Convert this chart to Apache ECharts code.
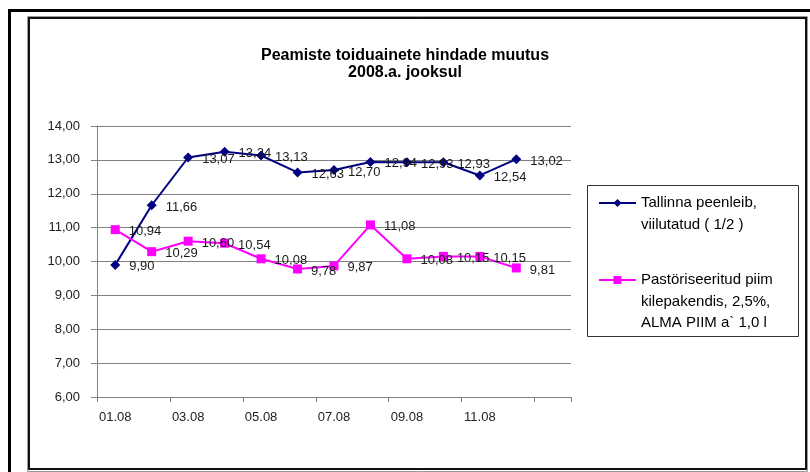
<!DOCTYPE html>
<html>
<head>
<meta charset="utf-8">
<script src="https://cdn.jsdelivr.net/npm/echarts@6/dist/echarts.min.js"></script>
<style>
  html, body { margin: 0; padding: 0; background: #fff; }
  #chart { width: 810px; height: 472px; }
</style>
</head>
<body>
<div id="chart"></div>
<script>
const months = ["01.08", "02.08", "03.08", "04.08", "05.08", "06.08", "07.08", "08.08", "09.08", "10.08", "11.08", "12.08", ""];
const breadName = "Tallinna peenleib,\nviilutatud ( 1/2 )";
const milkName = "Pastöriseeritud piim\nkilepakendis, 2,5%,\nALMA PIIM a` 1,0 l";
const bread = [9.90, 11.66, 13.07, 13.24, 13.13, 12.63, 12.70, 12.94, 12.93, 12.93, 12.54, 13.02, null];
const milk = [10.94, 10.29, 10.60, 10.54, 10.08, 9.78, 9.87, 11.08, 10.08, 10.15, 10.15, 9.81, null];

const FONT = "'Liberation Sans', Arial, sans-serif";
const comma = v => v.toFixed(2).replace(".", ",");
const LH = 21.5;

const chart = echarts.init(document.getElementById("chart"));

function labelStyle() {
  return {
    show: true,
    position: "right",
    distance: 9,
    offset: [0, 2],
    fontFamily: FONT,
    fontSize: 13,
    color: "#1a1a1a",
    formatter: p => comma(p.value)
  };
}

// multi-line legend text: blank lines on top keep the icon level with the first line
function legendFor(name, lines, firstLineY) {
  return {
    data: [name],
    orient: "vertical",
    left: 598,
    top: firstLineY - (lines - 0.5) * LH,
    padding: 0,
    itemWidth: 37,
    itemHeight: 10,
    selectedMode: false,
    formatter: n => "\u00a0\n".repeat(lines - 1) + n,
    textStyle: { fontFamily: FONT, fontSize: 15, lineHeight: LH, color: "#000" }
  };
}

chart.setOption({
  backgroundColor: "#fff",
  animation: false,
  title: {
    text: "Peamiste toiduainete hindade muutus\n2008.a. jooksul",
    left: "center",
    top: 42,
    textStyle: {
      fontFamily: FONT,
      fontSize: 16,
      fontWeight: "bold",
      lineHeight: 17,
      color: "#000"
    }
  },
  legend: [
    legendFor(breadName, 2, 203),
    legendFor(milkName, 3, 280)
  ],
  grid: {
    left: 97,
    right: 239,
    top: 126,
    bottom: 75,
    containLabel: false
  },
  xAxis: {
    type: "category",
    data: months,
    boundaryGap: true,
    axisLine: { lineStyle: { color: "#808080", width: 1 } },
    axisTick: { show: true, length: 5, lineStyle: { color: "#808080" } },
    axisLabel: {
      interval: 1,
      margin: 14,
      fontFamily: FONT,
      fontSize: 13,
      color: "#222"
    },
    splitLine: { show: false }
  },
  yAxis: {
    type: "value",
    min: 6,
    max: 14,
    interval: 1,
    axisLine: { show: true, lineStyle: { color: "#808080", width: 1 } },
    axisTick: { show: true, length: 6, lineStyle: { color: "#808080" } },
    axisLabel: {
      margin: 17,
      fontFamily: FONT,
      fontSize: 13,
      color: "#222",
      formatter: v => comma(v)
    },
    splitLine: { lineStyle: { color: "#808080", width: 1 } }
  },
  series: [
    {
      name: breadName,
      type: "line",
      data: bread,
      symbol: "diamond",
      symbolSize: 10,
      lineStyle: { color: "#000080", width: 2 },
      itemStyle: { color: "#000080" },
      label: labelStyle()
    },
    {
      name: milkName,
      type: "line",
      data: milk,
      symbol: "rect",
      symbolSize: 9,
      lineStyle: { color: "#ff00ff", width: 2 },
      itemStyle: { color: "#ff00ff" },
      label: labelStyle()
    }
  ],
  graphic: [
    {
      type: "rect",
      shape: { x: 9.5, y: 10.5, width: 840, height: 500 },
      style: { fill: null, stroke: "#000", lineWidth: 3 },
      silent: true
    },
    {
      type: "rect",
      shape: { x: 27.5, y: 16.5, width: 780, height: 455 },
      style: { fill: null, stroke: "#9a9a9a", lineWidth: 1 },
      silent: true
    },
    {
      type: "rect",
      shape: { x: 29, y: 18, width: 777, height: 451 },
      style: { fill: null, stroke: "#111", lineWidth: 2 },
      silent: true
    },
    {
      type: "rect",
      shape: { x: 587.5, y: 185.5, width: 211, height: 151 },
      style: { fill: null, stroke: "#333", lineWidth: 1 },
      silent: true
    }
  ]
});
</script>
</body>
</html>
